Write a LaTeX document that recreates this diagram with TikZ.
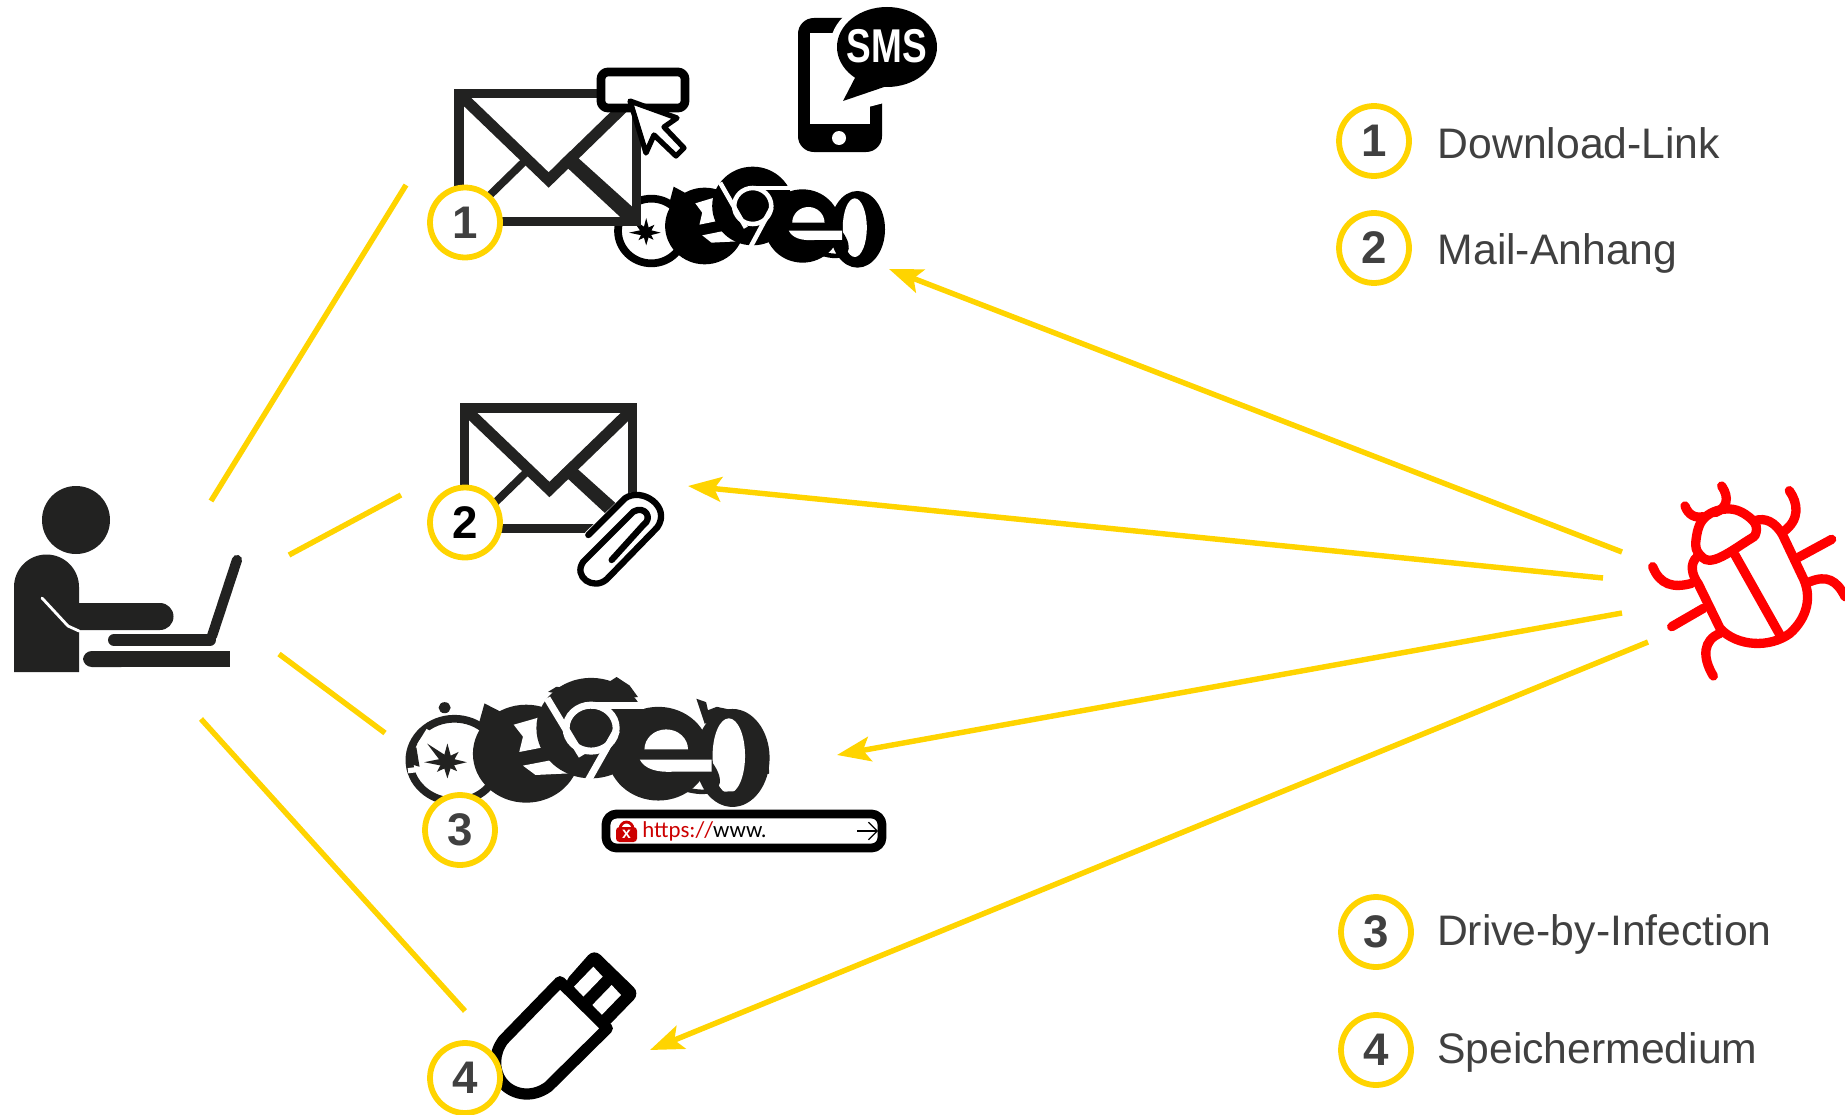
\documentclass[tikz,border=0pt]{standalone}
\usepackage{fontspec}
\setmainfont{Liberation Sans}
\newfontfamily\urlfont{Carlito}
\usepackage{xcolor}
\usetikzlibrary{arrows.meta,positioning}
\definecolor{ylw}{HTML}{FFD400}
\definecolor{ink}{HTML}{222221}
\definecolor{txt}{HTML}{404040}
% browser logos in their own local grid (780 wide, 305 high)
\newcommand{\browserlogos}[2]{
  \fill[#1] (700,190) ellipse (80 and 115);
  \fill[white] (692,185) ellipse (35 and 88);
  \draw[#1, line width=4.4pt] (100,195) circle (97);
  \foreach \a/\r in {0/42,45/30,90/38,135/32,180/50,225/62,270/44,315/34} {
    \fill[#1, shift={(85,200)}] (\a:\r) -- (\a+90:11) -- (\a-90:11) -- cycle;
  }
  \fill[#1] (255,180) circle (115);
  \fill[#1] (165,62) -- (215,90) -- (150,120) -- cycle;
  \fill[#1] (240,72) -- (270,100) -- (205,100) -- cycle;
  \fill[white] (228,112) -- (292,92) -- (292,165) -- (240,176) -- (248,140) -- cycle;
  \fill[white] (248,208) -- (325,192) -- (352,226) -- (275,230) -- cycle;
  \fill[#1] (395,120) circle (118);
  \draw[#1, line width=2.6pt, rotate around={-35:(545,175)}] (545,175) ellipse (145 and 55);
  \fill[#1] (540,180) circle (110);
  \fill[white] (510,170) arc (180:360:47) -- cycle;
  \fill[white] (500,194) -- (655,194) -- (655,222) -- (575,222) .. controls (535,225) and (510,215) .. cycle;
  \draw[white, line width=#2] (300,50) -- (375,185);
  \draw[white, line width=#2] (395,66) -- (510,66);
  \draw[white, line width=#2] (450,125) -- (385,250);
  \draw[white, line width=#2] (395,120) circle (54);
}
\tikzset{
  pics/mailicon/.style={code={
    \draw[ink, fill=white, line width=5.5pt] (4.5,4.5) rectangle (175.5,132.5);
    \draw[ink, line width=4.4pt] (6,135) -- (72,68);
    \fill[ink] (112,62) -- (178,124) -- (178,135) -- (165,133) -- (102,72) -- cycle;
    \draw[ink, line width=6.3pt] (6,6) -- (91,91) -- (175,6);
  }}
}
\begin{document}
\begin{tikzpicture}[x=.02cm, y=-.02cm, font=\fontsize{24.3}{28}\selectfont, >=Stealth,
  numcirc/.style={circle, draw=ylw, line width=3.3pt, fill=white, minimum size=1.4cm, inner sep=0pt, text=#1, font=\fontsize{26}{28}\selectfont\bfseries},
  numcirc/.default=txt,
  legend/.style={right, inner sep=0pt, text=txt, text height=17.4pt, text depth=0pt},
  feed/.style={draw=ylw, line width=3.1pt},
  attack/.style={draw=ylw, line width=3.1pt, -{Stealth[length=19pt, width=14pt, inset=4pt]}},
  icon/.style={line width=5pt, line cap=round, line join=round}]
\useasboundingbox (0,0) rectangle (1845,1115);
% user at the laptop
\fill[ink] (76,520) circle (34);
\fill[ink] (14,672) -- (14,587) arc (180:360:32.5) -- (79,603) -- (160,603) arc (-90:90:13.5) -- (79,630) -- (79,672) -- cycle;
\draw[white, line width=1.6pt, line cap=round] (42,598) -- (68,626) -- (79,631);
\draw[ink, line width=5.8pt, line cap=round] (237,560) -- (212,636);
\draw[ink, line width=6.8pt, line cap=round] (114,640) -- (210,640);
\fill[ink, rounded corners=5pt] (83,651) rectangle (130,667);
\fill[ink] (100,651) rectangle (230,667);
% bug
\begin{scope}[shift={(1620,460)}, x=.00667cm, y=-.00667cm, red, line width=5.3pt, line cap=round]
\draw plot[smooth cycle, tension=.7] coordinates {(228,240) (255,172) (330,147) (395,178) (408,218) (378,245) (285,298) (240,285)};
\draw (232,290) .. controls (208,310) and (215,345) .. (235,372) -- (300,505) .. controls (350,560) and (450,565) .. (510,520) .. controls (560,475) and (580,410) .. (545,345) -- (488,225) .. controls (465,185) and (435,172) .. (405,182);
\draw (345,285) -- (480,525);
\draw (305,78) .. controls (330,115) and (320,145) .. (285,158);
\draw (195,138) .. controls (205,165) and (225,175) .. (250,170);
\draw (508,92) .. controls (535,130) and (540,180) .. (490,215);
\draw (635,238) -- (530,295);
\draw (570,365) .. controls (620,345) and (650,360) .. (675,410);
\draw (98,320) .. controls (120,375) and (160,385) .. (215,370);
\draw (155,500) -- (250,445);
\draw (280,648) .. controls (245,590) and (250,540) .. (300,520);
\end{scope}
% small logos, mail with link, phone
\begin{scope}[shift={(617,166)}, xscale=.3436, yscale=.3333]
\browserlogos{black}{2.6pt}
\end{scope}
\pic[xscale=1.04] at (454,89) {mailicon};
\draw[icon, draw=black, fill=white, rounded corners=4pt] (601,72) rectangle (685,108);
\draw[black, fill=white, line width=3pt, line join=round] (630,101) -- (677,118) -- (664,127) -- (684,148) -- (676,156) -- (654,135) -- (646,153) -- cycle;
\fill[black, rounded corners=9pt] (798,18) rectangle (882,152);
\fill[white] (810,33) rectangle (870,124);
\fill[white] (839,138) circle (7);
\fill[white] (887,47) ellipse (57 and 47);
\fill[white] (850,74) -- (812,122) -- (895,100) -- cycle;
\fill[black] (887,47) ellipse (50 and 40);
\fill[black] (858,72) -- (843,101) -- (890,85) -- cycle;
\node[text=white, font=\fontsize{27}{28}\selectfont\bfseries, xscale=.78] (sms) at (887,46) {SMS};
% mail with paper clip
\pic[xscale=.983, yscale=.94] at (460,404) {mailicon};
\begin{scope}[shift={(420,390)}, x=.00667cm, y=-.00667cm, line cap=round, line join=round]
\path[fill=white, draw=white, line width=4.6pt] (505,435) -- (615,328) .. controls (665,295) and (750,350) .. (710,410) -- (560,565) .. controls (520,600) and (460,560) .. (490,515) -- cycle;
\draw[black, line width=3.6pt] (505,435) -- (615,325) .. controls (665,290) and (755,350) .. (712,412) -- (560,568) .. controls (520,603) and (458,560) .. (490,515) -- (640,365) .. controls (675,345) and (700,385) .. (670,405) -- (575,510);
\end{scope}
% big logos and address bar
\begin{scope}[shift={(408,677)}, xscale=.4636, yscale=.426]
\browserlogos{ink}{4pt}
\fill[ink] (79,72) circle (13);
\fill[ink] (302,35) -- (320,23) -- (356,27) -- (378,39) -- (399,35) -- (396,16) -- (421,20) -- (450,0) -- (478,20) -- (496,47) -- (420,55) -- cycle;
\fill[ink] (622,51) -- (643,59) -- (647,78) -- (666,70) -- (701,78) -- (640,110) -- cycle;
\fill[ink] (745,129) -- (762,121) -- (777,172) -- (779,227) -- (745,230) -- cycle;
\fill[ink] (640,270) -- (701,305) -- (745,281) -- (737,262) -- (720,268) -- cycle;
\fill[ink] (0,172) -- (18,165) -- (25,211) -- (8,205) -- cycle;
\draw[white, line width=3pt] (45,125) -- (25,160);
\draw[white, line width=3pt] (0,220) -- (30,216);
\end{scope}
\draw[icon, draw=black, fill=white, rounded corners=6pt] (606,814) rectangle (882,848);
\draw[red!80!black, line width=1.6pt] (620,829) arc (180:360:6.5 and 7);
\fill[red!80!black, rounded corners=2pt] (616,827) rectangle (637,842);
\node[text=white, font=\fontsize{9}{9}\selectfont\bfseries] (lockx) at (626.5,834) {x};
\node[right, inner sep=0pt, font=\urlfont\fontsize{13}{15}\selectfont] (url) at (642,831) {\textcolor{red!80!black}{https://}www.};
\coordinate (go1) at (857,831); \coordinate (go2) at (878,831);
\draw[black, line width=.7pt, -{Straight Barb[length=5pt, width=10pt]}] (go1) -- (go2);
% usb stick
\begin{scope}[shift={(420,940)}, x=.00667cm, y=-.00667cm, line join=round]
\fill[black, rounded corners=5pt] (430,130) -- (522,26) -- (660,160) -- (555,268) -- cycle;
\fill[white] (520,80) -- (548,110) -- (490,170) -- (462,140) -- cycle;
\fill[white] (575,135) -- (603,165) -- (545,225) -- (517,195) -- cycle;
\draw[black, fill=white, line width=6.4pt] (420,125) -- (562,265) -- (385,440) .. controls (330,480) and (270,460) .. (245,425) .. controls (220,390) and (220,340) .. (250,300) -- cycle;
\end{scope}
% numbers on the icons
\node[numcirc] (n1) at (465,222.5) {1};
\node[numcirc=black] (n2) at (465,522.5) {2};
\node[numcirc] (n3) at (460,830) {3};
\node[numcirc] (n4) at (465,1078) {4};
% legend
\node[numcirc] (k1) at (1374,141) {1};
\node[numcirc] (k2) at (1374,248) {2};
\node[numcirc] (k3) at (1376,932) {3};
\node[numcirc] (k4) at (1376,1050) {4};
\node[legend, right=14.5pt of k1, yshift=-1pt] (t1) {Download-Link};
\node[legend, right=14.5pt of k2, yshift=-.7pt] (t2) {Mail-Anhang};
\node[legend, right=13pt of k3, yshift=.8pt] (t3) {Drive-by-Infection};
\node[legend, right=13pt of k4, yshift=.8pt] (t4) {Speichermedium};
% connector ends
\coordinate (u1) at (211,501); \coordinate (m1) at (406,185);
\coordinate (u2) at (289,555); \coordinate (m2) at (401,495);
\coordinate (u3) at (279,654); \coordinate (m3) at (385,733);
\coordinate (u4) at (201,719); \coordinate (m4) at (465,1011);
\coordinate (b1) at (1622,552); \coordinate (a1) at (889,269);
\coordinate (b2) at (1603,578); \coordinate (a2) at (688,486);
\coordinate (b3) at (1622,613); \coordinate (a3) at (837,755);
\coordinate (b4) at (1648,642); \coordinate (a4) at (650,1050);
\draw[feed] (u1) -- (m1); \draw[feed] (u2) -- (m2);
\draw[feed] (u3) -- (m3); \draw[feed] (u4) -- (m4);
\draw[attack] (b1) -- (a1); \draw[attack] (b2) -- (a2);
\draw[attack] (b3) -- (a3); \draw[attack] (b4) -- (a4);
\end{tikzpicture}
\end{document}
